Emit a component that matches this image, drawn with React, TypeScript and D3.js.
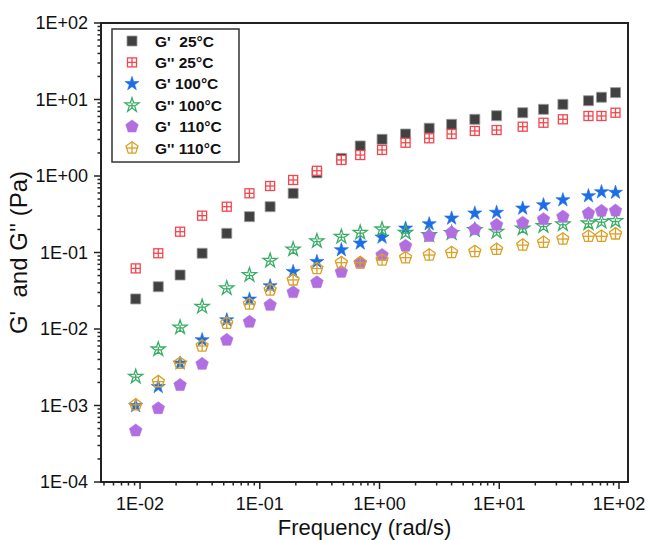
import * as d3 from "d3";
import React from "react";

// angular frequency (rad/s), shared by all six series
const freq = [0.0092, 0.0142, 0.0216, 0.033, 0.053, 0.082, 0.122, 0.19, 0.3, 0.48, 0.69, 1.05, 1.65, 2.6, 4.0, 6.25, 9.5, 15.7, 23.4, 34, 55.6, 71.4, 93.5];

const gp25 = [0.0247, 0.0357, 0.0508, 0.0977, 0.178, 0.294, 0.397, 0.594, 1.1, 1.7, 2.47, 3.02, 3.54, 4.21, 4.74, 5.51, 6.14, 6.72, 7.44, 8.65, 9.64, 10.7, 12.3];
const gpp25 = [0.062, 0.0977, 0.187, 0.303, 0.397, 0.594, 0.74, 0.887, 1.17, 1.62, 1.88, 2.19, 2.72, 3.11, 3.54, 3.88, 3.99, 4.41, 4.97, 5.51, 6.09, 6.09, 6.72];
const gp100 = [0.00099, 0.00176, 0.00356, 0.00719, 0.0131, 0.0244, 0.0365, 0.0561, 0.0758, 0.108, 0.132, 0.158, 0.207, 0.236, 0.28, 0.325, 0.333, 0.378, 0.418, 0.486, 0.548, 0.618, 0.608];
const gpp100 = [0.00238, 0.00543, 0.0105, 0.0196, 0.0341, 0.0508, 0.0782, 0.11, 0.141, 0.161, 0.182, 0.201, 0.182, 0.169, 0.18, 0.197, 0.187, 0.207, 0.222, 0.234, 0.241, 0.253, 0.258];
const gp110 = [0.000469, 0.000918, 0.00185, 0.00349, 0.00719, 0.0124, 0.0206, 0.0302, 0.0407, 0.0556, 0.073, 0.0927, 0.122, 0.164, 0.182, 0.201, 0.229, 0.245, 0.272, 0.294, 0.325, 0.349, 0.352];
const gpp110 = [0.00102, 0.00205, 0.00356, 0.006, 0.0119, 0.0212, 0.0324, 0.0438, 0.0618, 0.0736, 0.0736, 0.0798, 0.0855, 0.0927, 0.1, 0.103, 0.11, 0.125, 0.136, 0.15, 0.163, 0.163, 0.175];

const seriesLabels = ["G'  25°C", "G'' 25°C", "G' 100°C", "G'' 100°C", "G'  110°C", "G'' 110°C"];
const xTickLabels = ["1E-02", "1E-01", "1E+00", "1E+01", "1E+02"];
const yTickLabels = ["1E-04", "1E-03", "1E-02", "1E-01", "1E+00", "1E+01", "1E+02"];

const width = 648;
const height = 540;
const marginLeft = 101;
const marginRight = 20;
const marginTop = 23;
const marginBottom = 58;
const font = "'Liberation Sans', Arial, sans-serif";

const series = [
  { label: seriesLabels[0], values: gp25, shape: "square", color: "#414141" },
  { label: seriesLabels[1], values: gpp25, shape: "squareCross", color: "#f2474f" },
  { label: seriesLabels[2], values: gp100, shape: "star", color: "#1d6ee6" },
  { label: seriesLabels[3], values: gpp100, shape: "starOpen", color: "#3aad66" },
  { label: seriesLabels[4], values: gp110, shape: "pentagon", color: "#b06ee0" },
  { label: seriesLabels[5], values: gpp110, shape: "pentagonCross", color: "#dca024" },
];

function pentagonPath(r) {
  const pts = d3.range(5).map((i) => {
    const a = -Math.PI / 2 + (i * 2 * Math.PI) / 5;
    return [r * Math.cos(a), r * Math.sin(a)];
  });
  return "M" + pts.map((p) => p.join(",")).join("L") + "Z";
}

const starPath = d3.symbol().type(d3.symbolStar).size(62)();
const squarePath = d3.symbol().type(d3.symbolSquare).size(100)();

function Marker({ shape, color, cx, cy }) {
  const t = `translate(${cx},${cy})`;
  if (shape === "square") {
    return <path d={squarePath} transform={t} fill={color} stroke="#9a9a9a" strokeWidth={0.8} />;
  }
  if (shape === "squareCross") {
    return (
      <g transform={t} fill="none" stroke={color} strokeWidth={1.3}>
        <rect x={-4.5} y={-4.5} width={9} height={9} fill="#fff" />
        <line x1={0} x2={0} y1={-4.5} y2={4.5} />
        <line x1={-4.5} x2={4.5} y1={0} y2={0} />
      </g>
    );
  }
  if (shape === "star") {
    return <path d={starPath} transform={t} fill={color} stroke={color} strokeWidth={0.6} />;
  }
  if (shape === "starOpen") {
    return (
      <g transform={t} fill="none" stroke={color} strokeWidth={1.3}>
        <path d={starPath} />
        <line x1={0} x2={0} y1={-2.5} y2={3} />
        <line x1={-2.5} x2={2.5} y1={0.5} y2={0.5} />
      </g>
    );
  }
  if (shape === "pentagon") {
    return <path d={pentagonPath(6.6)} transform={t} fill={color} stroke={color} strokeWidth={0.6} />;
  }
  return (
    <g transform={t} fill="none" stroke={color} strokeWidth={1.3}>
      <path d={pentagonPath(6.3)} />
      <line x1={0} x2={0} y1={-6.3} y2={5.1} />
      <line x1={-6} x2={6} y1={0} y2={0} />
    </g>
  );
}

export default function App() {
  const x = d3
    .scaleLog()
    .domain([0.00472, 118.9])
    .range([marginLeft, width - marginRight]);
  const y = d3
    .scaleLog()
    .domain([1e-4, 1e2])
    .range([height - marginBottom, marginTop]);

  const isMajor = (v) => Math.abs(Math.log10(v) - Math.round(Math.log10(v))) < 1e-9;
  const xTicks = x.ticks();
  const yTicks = y.ticks();
  const x0 = marginLeft;
  const x1 = width - marginRight;
  const y0 = height - marginBottom;
  const y1 = marginTop;

  const legendX = 112;
  const legendY = 29;
  const rowH = 21.4;

  return (
    <svg
      width={width}
      height={height}
      viewBox={`0 0 ${width} ${height}`}
      style={{ position: "absolute", left: 0, top: 0, background: "#fff" }}
      fontFamily={font}
    >
      <rect width={width} height={height} fill="#fff" />

      {/* minor + major ticks */}
      <g stroke="#222" strokeWidth={1.5}>
        {xTicks.map((t, i) => (
          <line key={"xt" + i} x1={x(t)} x2={x(t)} y1={y0} y2={y0 + (isMajor(t) ? 7 : 3.5)} />
        ))}
        {yTicks.map((t, i) => (
          <line key={"yt" + i} x1={x0} x2={x0 - (isMajor(t) ? 7 : 3.5)} y1={y(t)} y2={y(t)} />
        ))}
      </g>

      {/* frame */}
      <rect x={x0} y={y1} width={x1 - x0} height={y0 - y1} fill="none" stroke="#222" strokeWidth={2} />

      {/* tick labels */}
      <g fontSize={18} fill="#111">
        {xTickLabels.map((s) => (
          <text key={s} x={x(+s)} y={y0 + 28} textAnchor="middle">
            {s}
          </text>
        ))}
        {yTickLabels.map((s) => (
          <text key={s} x={x0 - 13} y={y(+s)} textAnchor="end" dominantBaseline="central">
            {s}
          </text>
        ))}
      </g>

      {/* axis titles */}
      <text x={(x0 + x1) / 2} y={535} fontSize={22} textAnchor="middle" fill="#111">
        Frequency (rad/s)
      </text>
      <text
        transform={`translate(27,${(y0 + y1) / 2}) rotate(-90)`}
        fontSize={24}
        textAnchor="middle"
        fill="#111"
        style={{ whiteSpace: "pre" }}
      >
        {"G'  and G'' (Pa)"}
      </text>

      {/* data */}
      {series.map((s) => (
        <g key={s.label}>
          {s.values.map((v, i) => (
            <Marker key={i} shape={s.shape} color={s.color} cx={x(freq[i])} cy={y(v)} />
          ))}
        </g>
      ))}

      {/* legend */}
      <rect x={legendX} y={legendY} width={127} height={133} fill="#fff" stroke="#333" strokeWidth={1.5} />
      {series.map((s, i) => (
        <g key={"lg" + i}>
          <Marker shape={s.shape} color={s.color} cx={legendX + 20} cy={legendY + 12 + i * rowH} />
          <text
            x={legendX + 43}
            y={legendY + 12 + i * rowH}
            dominantBaseline="central"
            fontSize={15.5}
            fontWeight="bold"
            fill="#111"
            style={{ whiteSpace: "pre" }}
          >
            {s.label}
          </text>
        </g>
      ))}
    </svg>
  );
}
